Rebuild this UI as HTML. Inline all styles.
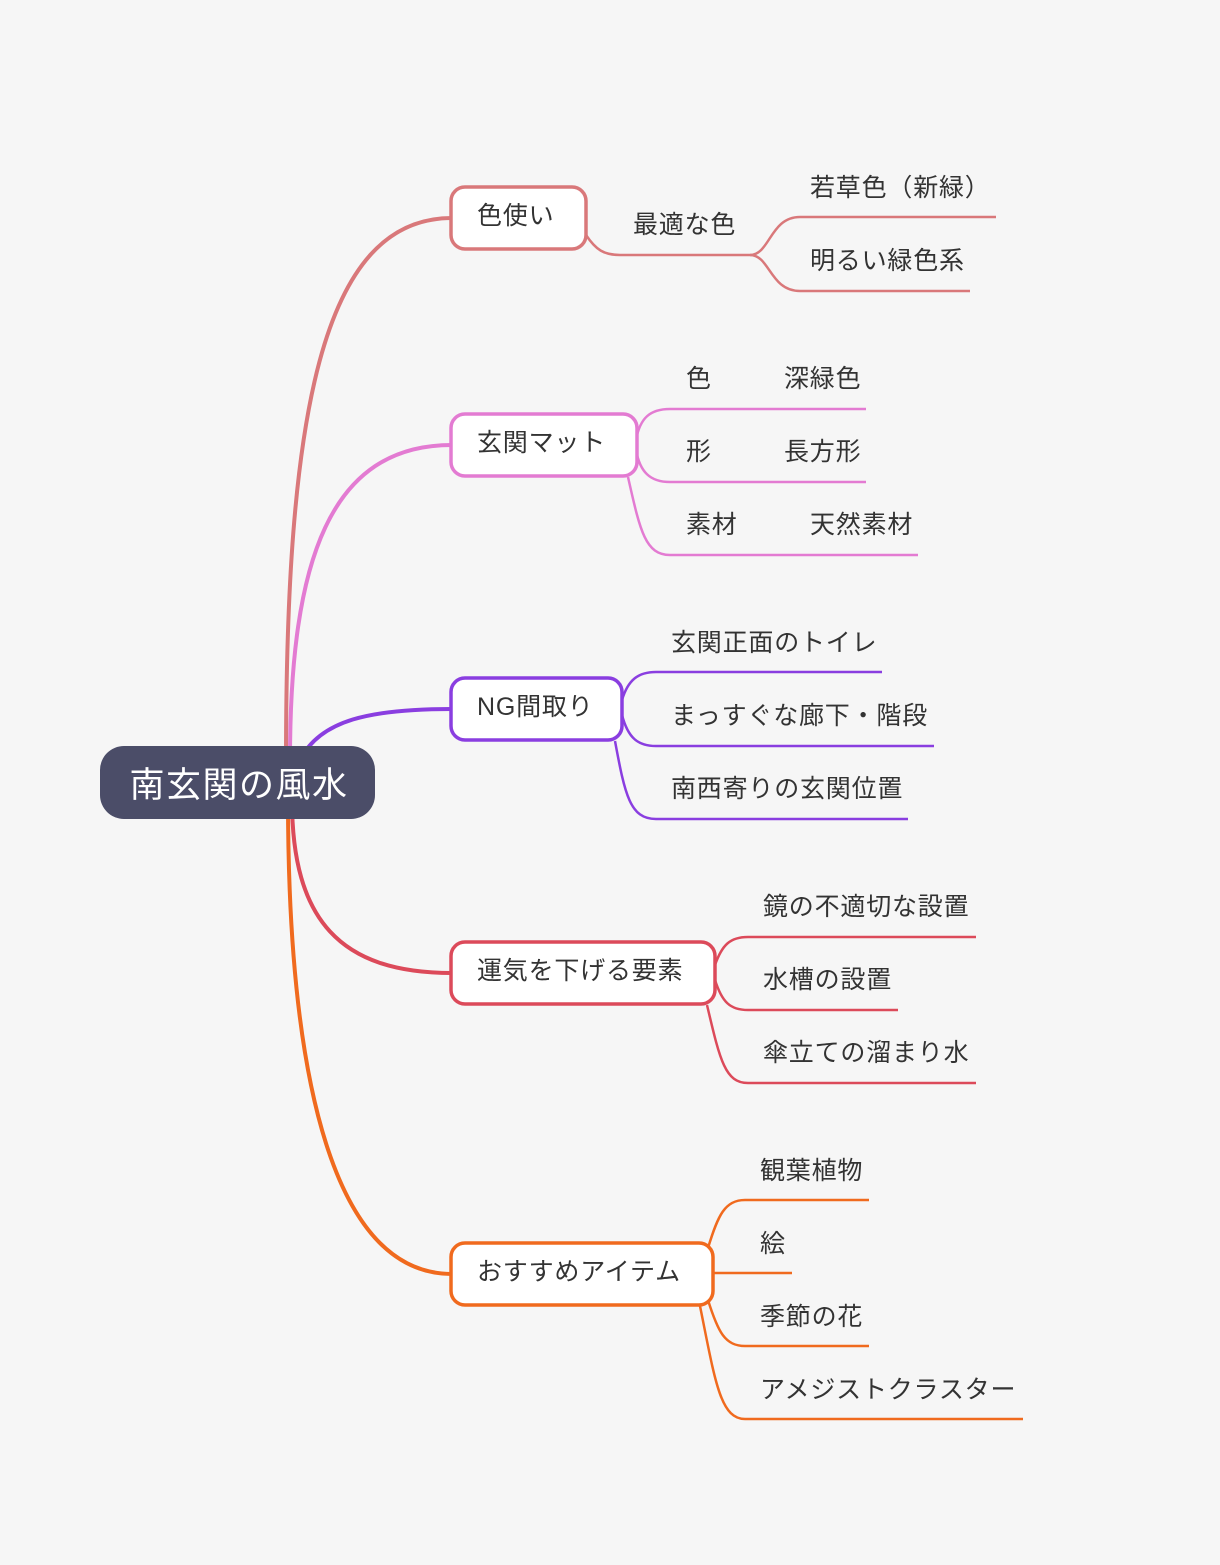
<!DOCTYPE html>
<html><head><meta charset="utf-8"><style>
html,body{margin:0;padding:0;background:#f6f6f6;}
svg{display:block;}
text{font-family:"Liberation Sans","Noto Sans CJK JP",sans-serif;font-size:25px;letter-spacing:0.8px;fill:#333;}
</style></head><body>
<svg width="1220" height="1565" viewBox="0 0 1220 1565" xmlns="http://www.w3.org/2000/svg">
<rect width="1220" height="1565" fill="#f6f6f6"/>
<g fill="none" stroke-width="4" stroke-linecap="round">
<path d="M286,760 C286,420 320,218 452,218" stroke="#d9787a"/>
<path d="M290,760 C290,560 330,445 452,445" stroke="#e37bd2"/>
<path d="M300,760 C320,720 370,709 452,709" stroke="#8a3ee0"/>
<path d="M292,800 C292,920 340,973 452,973" stroke="#dc4a5a"/>
<path d="M288,800 C288,1100 340,1274 452,1274" stroke="#f06a1e"/>
</g>
<g fill="none" stroke-width="2.5">
<g stroke="#d9787a">
<path d="M586,235 C596,250 604,255 620,255 L750,255"/>
<path d="M750,255 C770,255 770,217 800,217 L996,217"/>
<path d="M750,255 C770,255 770,291 800,291 L970,291"/>
</g>
<g stroke="#e37bd2">
<path d="M636,440 C640,418 650,409 670,409 L866,409"/>
<path d="M636,450 C640,472 650,482 670,482 L866,482"/>
<path d="M628,477 C640,530 645,555 670,555 L918,555"/>
</g>
<g stroke="#8a3ee0">
<path d="M622,700 C628,680 638,672 656,672 L882,672"/>
<path d="M622,715 C628,738 638,746 656,746 L934,746"/>
<path d="M615,741 C625,795 630,819 656,819 L908,819"/>
</g>
<g stroke="#dc4a5a">
<path d="M715,965 C722,945 730,937 748,937 L976,937"/>
<path d="M715,980 C722,1002 730,1010 748,1010 L898,1010"/>
<path d="M707,1005 C720,1060 725,1083 748,1083 L976,1083"/>
</g>
<g stroke="#f06a1e">
<path d="M708,1248 C718,1215 725,1200 745,1200 L869,1200"/>
<path d="M714,1273 L792,1273"/>
<path d="M708,1300 C718,1332 725,1346 745,1346 L869,1346"/>
<path d="M700,1306 C715,1380 720,1419 745,1419 L1023,1419"/>
</g>
</g>
<rect x="100" y="746" width="275" height="73" rx="24" fill="#4b4d68"/>
<text x="239" y="797" text-anchor="middle" style="font-size:35px;letter-spacing:1.5px;fill:#fff">南玄関の風水</text>
<g fill="#fff" stroke-width="3.5">
<rect x="451" y="187" width="135" height="62" rx="14" stroke="#d9787a"/>
<rect x="451" y="414" width="186" height="62" rx="14" stroke="#e37bd2"/>
<rect x="451" y="678" width="171" height="62" rx="14" stroke="#8a3ee0"/>
<rect x="451" y="942" width="264" height="62" rx="14" stroke="#dc4a5a"/>
<rect x="451" y="1243" width="262" height="62" rx="14" stroke="#f06a1e"/>
</g>
<text x="477" y="224">色使い</text>
<text x="477" y="451">玄関マット</text>
<text x="477" y="715">NG間取り</text>
<text x="477" y="979">運気を下げる要素</text>
<text x="477" y="1280">おすすめアイテム</text>
<text x="633" y="233">最適な色</text>
<text x="810" y="196">若草色（新緑）</text>
<text x="810" y="269">明るい緑色系</text>
<text x="686" y="387">色</text><text x="784" y="387">深緑色</text>
<text x="686" y="460">形</text><text x="784" y="460">長方形</text>
<text x="686" y="533">素材</text><text x="810" y="533">天然素材</text>
<text x="671" y="651">玄関正面のトイレ</text>
<text x="671" y="724">まっすぐな廊下・階段</text>
<text x="671" y="797">南西寄りの玄関位置</text>
<text x="763" y="915">鏡の不適切な設置</text>
<text x="763" y="988">水槽の設置</text>
<text x="763" y="1061">傘立ての溜まり水</text>
<text x="760" y="1179">観葉植物</text>
<text x="760" y="1252">絵</text>
<text x="760" y="1325">季節の花</text>
<text x="760" y="1398">アメジストクラスター</text>
</svg>
</body></html>
